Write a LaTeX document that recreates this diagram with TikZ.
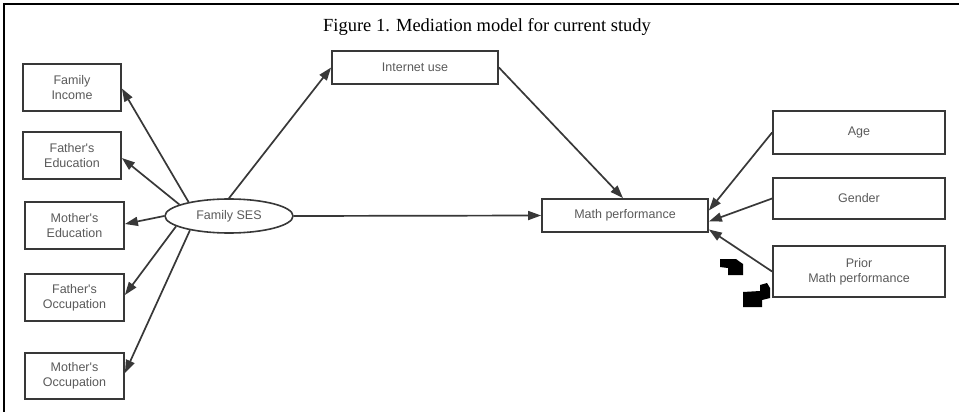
\documentclass[tikz,border=0pt]{standalone}
\usepackage{fontspec}
\setmainfont{Liberation Serif}
\newfontfamily\boxfont{Liberation Sans}
\usetikzlibrary{arrows.meta,shapes.geometric}
\definecolor{linec}{HTML}{383838}
\definecolor{textc}{HTML}{5A5A5A}
\tikzset{
  varbox/.style={draw=linec, line width=1.8pt, rectangle, align=center, inner sep=0pt,
    text=textc, font=\boxfont\fontsize{12.5}{15}\selectfont},
  latent/.style={draw=linec, line width=1.6pt, ellipse, inner sep=0pt,
    text=textc, font=\boxfont\fontsize{12.5}{15}\selectfont},
  path/.style={draw=linec, line width=1.7pt, -{Triangle[length=13pt,width=9pt]}},
}
\begin{document}
\begin{tikzpicture}[x=1pt,y=-1pt]
\useasboundingbox (0,0) rectangle (959,412);
\fill[white] (0,0) rectangle (959,412);
% frame
\draw[black, line width=1.4pt] (4,412) -- (4,4) -- (959,4);
% title
\node[anchor=base, font=\fontsize{18.5}{20}\selectfont] (title) at (487,32) {Figure 1. Mediation model for current study};
% nodes
\node[varbox, minimum width=98pt, minimum height=47pt] (inc) at (72,87.5) {Family\\Income};
\node[varbox, minimum width=98pt, minimum height=47pt] (fe) at (72,155.5) {Father's\\Education};
\node[varbox, minimum width=99pt, minimum height=47pt] (me) at (74.5,225.5) {Mother's\\Education};
\node[varbox, minimum width=99pt, minimum height=47pt] (fo) at (74.5,297.5) {Father's\\Occupation};
\node[varbox, minimum width=99pt, minimum height=46pt] (mo) at (74.5,376) {Mother's\\Occupation};
\node[varbox, minimum width=166pt, minimum height=33pt] (inet) at (415,67.5) {Internet use};
\node[latent, minimum width=128pt, minimum height=34pt] (ses) at (229,216) {Family SES};
\node[varbox, minimum width=166pt, minimum height=33pt] (math) at (625,215.5) {Math performance};
\node[varbox, minimum width=172pt, minimum height=43pt] (age) at (859,132.5) {Age};
\node[varbox, minimum width=172pt, minimum height=41pt] (gender) at (859,198.5) {Gender};
\node[varbox, minimum width=172pt, minimum height=51pt] (prior) at (859,271.5) {Prior\\Math performance};
% connectors
\draw[path] (ses.161) -- ([yshift=-1pt]inc.east);
\draw[path] (ses.167) -- ([yshift=-2.5pt]fe.east);
\draw[path] (ses.180) -- ([yshift=1.5pt]me.east);
\draw[path] (ses.191) -- ([yshift=2.5pt]fo.east);
\draw[path] (ses.200) -- ([yshift=3pt]mo.east);
\draw[path] (ses.90) -- (inet.west);
\draw[path] (inet.east) -- ([xshift=-2pt]math.north);
\draw[path] (ses.east) -- (math.west);
\draw[path] (age.west) -- ([yshift=5pt]math.east);
\draw[path] (gender.west) -- ([yshift=-6pt]math.east);
\draw[path] (prior.west) -- ([yshift=-14pt]math.east);
% scan artefacts
\fill[black] (720,259) -- (736,259) -- (740,262) -- (743,264) -- (743,275) -- (728,275) -- (728,268) -- (720,267) -- cycle;
\fill[black] (743,292) -- (760,291) -- (760,285) -- (767,283) -- (770,288) -- (770,298) -- (762,300) -- (762,307) -- (743,307) -- cycle;
\end{tikzpicture}
\end{document}
